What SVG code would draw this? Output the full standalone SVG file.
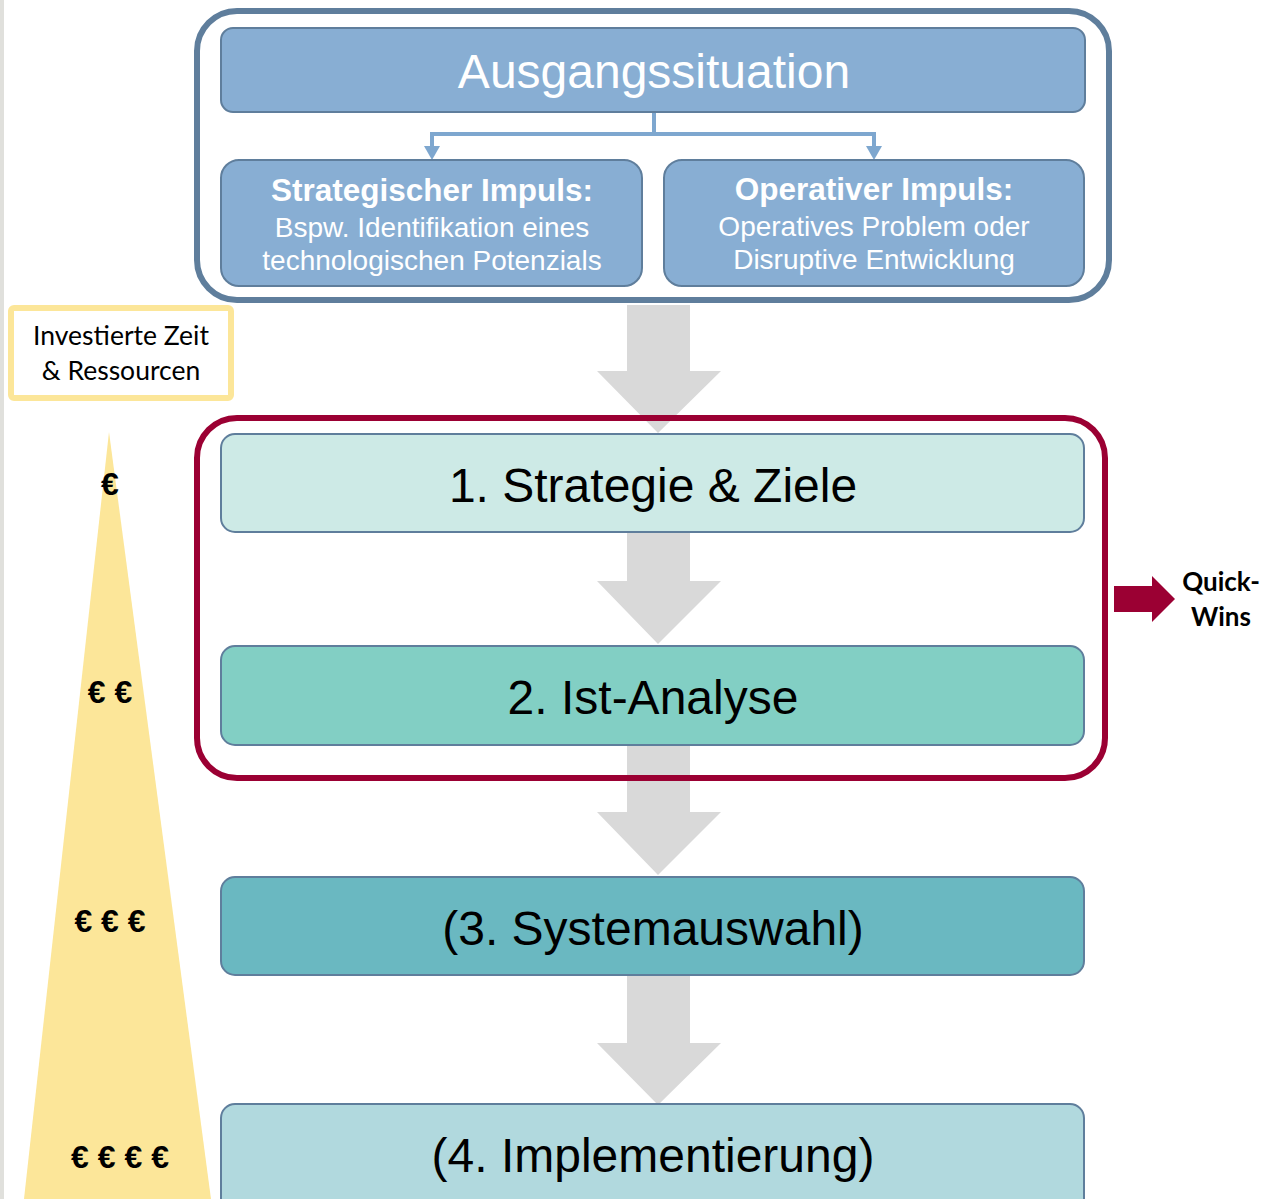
<svg xmlns="http://www.w3.org/2000/svg" width="1263" height="1199" viewBox="0 0 1263 1199">
<style>
.arrow{fill:#d9d9d9}
.box{stroke:#5f7e9c;stroke-width:2}
.sans{font-family:"Liberation Sans",Arial,sans-serif}
.cal{font-family:Lato,"Open Sans",sans-serif}
.step{font-size:48px;fill:#000;text-anchor:middle}
.wt{fill:#fff;text-anchor:middle}
.eur{font-family:"Liberation Sans",Arial,sans-serif;font-weight:bold;font-size:32px;text-anchor:middle}
</style>
<rect x="0" y="0" width="1263" height="1199" fill="#fff"/>
<rect x="0" y="0" width="4" height="1199" fill="#e0e0dc"/>

<g id="connectors">
<polygon class="arrow" points="627,305 690,305 690,371 721,371 658,433 597,371 627,371"/>
<polygon class="arrow" points="627,533 690,533 690,581 721,581 658,644 597,581 627,581"/>
<polygon class="arrow" points="627,745 690,745 690,812 721,812 658,875 597,812 627,812"/>
<polygon class="arrow" points="627,976 690,976 690,1043 721,1043 658,1105 597,1043 627,1043"/>
<polyline points="654,112 654,134 432,134 432,150" fill="none" stroke="#7ea7cf" stroke-width="4"/>
<polyline points="654,134 874,134 874,150" fill="none" stroke="#7ea7cf" stroke-width="4"/>
<polygon points="424,146 440,146 432,160" fill="#7ea7cf"/>
<polygon points="866,146 882,146 874,160" fill="#7ea7cf"/>
<polygon points="1114,586 1152,586 1152,576 1175,599 1152,622 1152,612 1114,612" fill="#9b0033"/>
</g>

<g id="triangle">
<polygon points="109,432 211,1199 24,1199" fill="#fce699"/>
</g>

<g id="frame-top">
<rect x="197" y="11" width="912" height="289" rx="40" fill="none" stroke="#5f7e9c" stroke-width="6"/>
</g>

<g id="ausgangssituation">
<rect class="box" x="221" y="28" width="864" height="84" rx="12" fill="#88aed3"/>
<text class="sans wt" x="654" y="88" font-size="48">Ausgangssituation</text>
</g>

<g id="strategischer">
<rect class="box" x="221" y="160" width="421" height="126" rx="18" fill="#88aed3"/>
<text class="sans wt" x="432" y="201" font-size="31.5" font-weight="bold">Strategischer Impuls:</text>
<text class="sans wt" x="432" y="237" font-size="28">Bspw. Identifikation eines</text>
<text class="sans wt" x="432" y="270" font-size="28">technologischen Potenzials</text>
</g>

<g id="operativer">
<rect class="box" x="664" y="160" width="420" height="126" rx="18" fill="#88aed3"/>
<text class="sans wt" x="874" y="200" font-size="31.5" font-weight="bold">Operativer Impuls:</text>
<text class="sans wt" x="874" y="236" font-size="28">Operatives Problem oder</text>
<text class="sans wt" x="874" y="269" font-size="28">Disruptive Entwicklung</text>
</g>

<g id="investiert">
<rect x="11" y="308" width="220" height="90" rx="3" fill="#fff" stroke="#fce699" stroke-width="6"/>
<text class="cal" x="121" y="345" font-size="26.5" text-anchor="middle">Investierte Zeit</text>
<text class="cal" x="121" y="380" font-size="26.5" text-anchor="middle">&amp; Ressourcen</text>
</g>

<g id="step1">
<rect class="box" x="221" y="434" width="863" height="98" rx="14" fill="#cdeae6"/>
<text class="sans step" x="653" y="502">1. Strategie &amp; Ziele</text>
</g>

<g id="step2">
<rect class="box" x="221" y="646" width="863" height="99" rx="14" fill="#82cfc4"/>
<text class="sans step" x="653" y="714">2. Ist-Analyse</text>
</g>

<g id="frame-red">
<rect x="197" y="418" width="908" height="360" rx="40" fill="none" stroke="#9b0033" stroke-width="6"/>
</g>

<g id="step3">
<rect class="box" x="221" y="877" width="863" height="98" rx="14" fill="#6ab8c1"/>
<text class="sans step" x="653" y="945">(3. Systemauswahl)</text>
</g>

<g id="step4">
<rect class="box" x="221" y="1104" width="863" height="110" rx="14" fill="#b1d9de"/>
<text class="sans step" x="653" y="1172">(4. Implementierung)</text>
</g>

<g id="quickwins">
<text class="cal" x="1221" y="591" font-size="26" font-weight="bold" text-anchor="middle">Quick-</text>
<text class="cal" x="1221" y="626" font-size="26" font-weight="bold" text-anchor="middle">Wins</text>
</g>

<g id="euros">
<text class="eur" x="110" y="495">€</text>
<text class="eur" x="110" y="703">€ €</text>
<text class="eur" x="110" y="932">€ € €</text>
<text class="eur" x="120" y="1168">€ € € €</text>
</g>
</svg>
